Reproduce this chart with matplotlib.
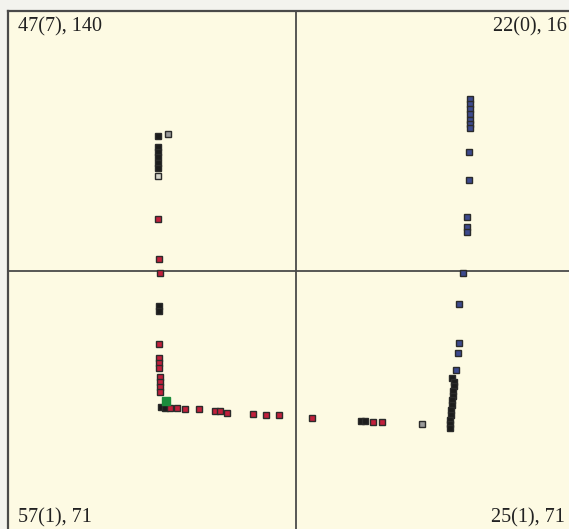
import matplotlib
matplotlib.use("Agg")
import matplotlib.pyplot as plt

# point positions (image-like units: x right, y down)
red_x = [158, 159, 160, 159, 159, 159, 159, 160, 160, 160, 160,
         170, 177, 185, 199, 215, 220, 227, 253, 266, 279, 312, 373, 382]
red_y = [219, 259, 273, 344, 358, 363, 368, 377, 382, 387, 392,
         408, 408, 409, 409, 411, 411, 413, 414, 415, 415, 418, 422, 422]

blue_x = [470, 470, 470, 470, 470, 470, 470, 469, 469, 467, 467, 467,
          463, 459, 459, 458, 456]
blue_y = [99, 104, 109, 114, 120, 124, 128, 152, 180, 217, 227, 232,
          273, 304, 343, 353, 370]

black_x = [158, 158, 158, 158, 158, 158, 159, 159, 161, 165, 361, 365,
           452, 454, 454, 453, 453, 452, 452, 451, 451, 450, 450, 450]
black_y = [136, 147, 152, 157, 163, 168, 306, 311, 407, 408, 421, 421,
           378, 382, 386, 391, 396, 400, 405, 410, 415, 420, 424, 428]

gray_x = [168, 422]
gray_y = [134, 424]

light_x = [158]
light_y = [176]

green_x = [166]
green_y = [401]

corner_labels = ["47(7), 140", "22(0), 16", "57(1), 71", "25(1), 71"]

fig = plt.figure(figsize=(5.69, 5.29), dpi=100, facecolor="#f3f3ee")
ax = fig.add_axes([8 / 569, 0, 561 / 569, 518 / 529])
ax.set_facecolor("#fdfae3")
ax.set_xlim(8, 569)
ax.set_ylim(529, 11)

ax.axvline(296, color="#4a4a4a", lw=1.3, zorder=1)
ax.axhline(271, color="#4a4a4a", lw=1.3, zorder=1)

style = dict(marker="s", ms=5.0, mec="#2b2b2b", mew=1.0, ls="none", zorder=3)
ax.plot(black_x, black_y, mfc="#1c1c1c", **style)
ax.plot(gray_x, gray_y, mfc="#9a9a9a", **style)
ax.plot(light_x, light_y, mfc="#d6d6cc", **style)
ax.plot(red_x, red_y, mfc="#c21f3c", **style)
ax.plot(blue_x, blue_y, mfc="#3d4a8e", **style)
ax.plot(green_x, green_y, mfc="#1b8c3c", mec="#1b8c3c", marker="s", ms=5.5,
        ls="none", zorder=4)

for side in ["right", "bottom"]:
    ax.spines[side].set_visible(False)
for side in ["left", "top"]:
    ax.spines[side].set_color("#4a4a4a")
    ax.spines[side].set_linewidth(1.6)
ax.set_xticks([])
ax.set_yticks([])

font = dict(family="Liberation Serif", fontsize=14.5, color="#222222")
ax.text(18, 27, corner_labels[0], ha="left", va="center", **font)
ax.text(567, 27, corner_labels[1], ha="right", va="center", **font)
ax.text(18, 518, corner_labels[2], ha="left", va="center", **font)
ax.text(565, 518, corner_labels[3], ha="right", va="center", **font)

fig.savefig("out.png", dpi=100, facecolor=fig.get_facecolor())
